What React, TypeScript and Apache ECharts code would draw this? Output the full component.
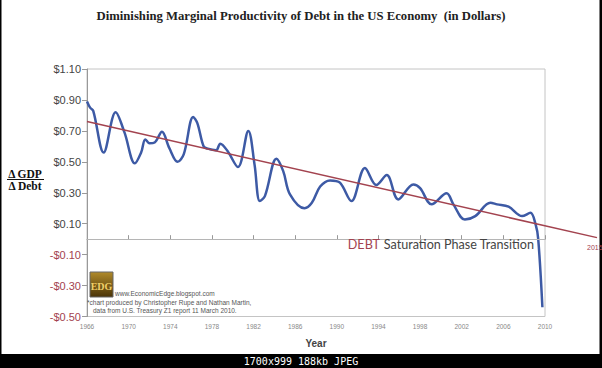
import React, { useEffect, useRef } from "react";
import * as echarts from "echarts";

// Blue curve: ΔGDP / ΔDebt
const years = [
  1966.0, 1966.3, 1966.6, 1967.6, 1968.75, 1969.6, 1970.6, 1971.2, 1971.6, 1972.0,
  1972.5, 1973.2, 1973.9, 1974.7, 1975.3, 1976.2, 1976.6, 1977.2, 1977.6, 1978.4,
  1978.8, 1979.5, 1980.5, 1981.5, 1982.1, 1982.6, 1983.1, 1984.2, 1984.85, 1985.5,
  1986.9, 1987.6, 1988.4, 1989.35, 1990.3, 1991.4, 1992.7, 1993.8, 1994.8, 1995.9,
  1997.35, 1998.0, 1999.1, 2000.55, 2001.2, 2002.3, 2003.3, 2004.75, 2005.4, 2006.5,
  2007.8, 2008.6, 2009.1, 2009.35, 2009.75,
];
const ratio = [
  0.89, 0.85, 0.83, 0.56, 0.82, 0.69, 0.49, 0.56, 0.645, 0.62,
  0.625, 0.695, 0.59, 0.5, 0.55, 0.79, 0.75, 0.6, 0.585, 0.575,
  0.617, 0.57, 0.466, 0.7, 0.48, 0.246, 0.28, 0.52, 0.44, 0.29,
  0.2, 0.235, 0.34, 0.38, 0.365, 0.246, 0.46, 0.35, 0.414, 0.257,
  0.354, 0.33, 0.225, 0.296, 0.225, 0.127, 0.149, 0.235, 0.225, 0.21,
  0.149, 0.17, 0.095, 0.0, -0.44,
];

// Red trend line
const trendYears = [1966, 2015];
const trendValues = [0.76, 0.01];

const xTicks = [1966, 1970, 1974, 1978, 1982, 1986, 1990, 1994, 1998, 2002, 2006, 2010];
const yTicks = [-0.5, -0.3, -0.1, 0.1, 0.3, 0.5, 0.7, 0.9, 1.1];

const TITLE = "Diminishing Marginal Productivity of Debt in the US Economy  (in Dollars)";
const RED = "#a3434f";
const BLUE = "#3d5aa5";

export default function App() {
  const ref = useRef<HTMLDivElement>(null);

  useEffect(() => {
    if (!ref.current) return;
    const chart = echarts.init(ref.current, undefined, { renderer: "svg" });
    const option: any = {
      animation: false,
      backgroundColor: "#000",
      title: {
        text: TITLE,
        left: "center",
        top: 4,
        textStyle: {
          fontFamily: "Liberation Serif",
          fontWeight: "bold",
          fontSize: 12.7,
          color: "#222",
        },
      },
      grid: [
        {
          left: 87,
          right: 57,
          top: 69,
          bottom: 51.5,
          show: true,
          borderColor: "#c4c4c4",
          borderWidth: 1,
          backgroundColor: "transparent",
        },
        // wider grid for the trend line that runs on to 2015
        { left: 87, right: 5, top: 69, bottom: 51.5, show: false },
      ],
      xAxis: [
        {
          type: "value",
          gridIndex: 0,
          min: 1966,
          max: 2010,
          name: "Year",
          nameLocation: "middle",
          nameGap: 22,
          nameTextStyle: {
            fontFamily: "Liberation Sans",
            fontWeight: "bold",
            fontSize: 10,
            color: "#444",
          },
          axisLine: { show: true, lineStyle: { color: "#999", width: 1 } },
          axisTick: {
            show: true,
            inside: true,
            length: 4,
            customValues: xTicks,
            lineStyle: { color: "#999" },
          },
          axisLabel: {
            customValues: xTicks,
            fontFamily: "Liberation Sans",
            fontSize: 6.5,
            color: "#888",
            margin: 6,
            formatter: (v: number) => String(v),
          },
          splitLine: { show: false },
        },
        {
          type: "value",
          gridIndex: 1,
          min: 1966,
          max: 2015,
          show: false,
        },
      ],
      yAxis: [
        {
          type: "value",
          gridIndex: 0,
          min: -0.5,
          max: 1.1,
          axisLine: { show: true, lineStyle: { color: "#999", width: 1 } },
          axisTick: {
            show: true,
            length: 5,
            customValues: yTicks,
            lineStyle: { color: "#999" },
          },
          axisLabel: {
            customValues: yTicks,
            margin: 6,
            formatter: (v: number) =>
              v < 0 ? "{n|-$" + Math.abs(v).toFixed(2) + "}" : "{p|$" + v.toFixed(2) + "}",
            rich: {
              n: { fontFamily: "Liberation Sans", fontSize: 11, color: RED },
              p: { fontFamily: "Liberation Sans", fontSize: 11, color: "#444" },
            },
          },
          splitLine: { show: false },
        },
        {
          type: "value",
          gridIndex: 1,
          min: -0.5,
          max: 1.1,
          show: false,
        },
      ],
      series: [
        {
          type: "line",
          xAxisIndex: 0,
          yAxisIndex: 0,
          data: years.map((y, i) => [y, ratio[i]]),
          smooth: 0.35,
          symbol: "none",
          z: 3,
          lineStyle: { color: BLUE, width: 2.5 },
          markLine: {
            silent: true,
            symbol: "none",
            lineStyle: { color: "#b5b5b5", width: 1, type: "solid" },
            label: { show: false },
            data: [{ yAxis: 0 }],
          },
        },
        {
          type: "line",
          xAxisIndex: 1,
          yAxisIndex: 1,
          symbol: "none",
          showSymbol: true,
          z: 4,
          lineStyle: { color: RED, width: 1.5 },
          data: trendYears.map((y, i) => [y, trendValues[i]]),
          endLabel: {
            show: true,
            formatter: () => String(trendYears[trendYears.length - 1]),
            offset: [-18, 10],
            fontFamily: "Liberation Sans",
            fontSize: 7,
            color: RED,
          },
        },
      ],
      graphic: [
        // white page inside the black frame
        { type: "rect", z: -10, silent: true, shape: { x: 1.5, y: 0, width: 598, height: 354 }, style: { fill: "#fff" } },
        // y-axis name as a fraction
        {
          type: "text",
          z: 10,
          style: { text: "Δ GDP", x: 25, y: 173.5, align: "center", verticalAlign: "middle", fontFamily: "Liberation Serif", fontWeight: "bold", fontSize: 11.5, fill: "#111" },
        },
        { type: "line", z: 10, shape: { x1: 7, y1: 179.5, x2: 44, y2: 179.5 }, style: { stroke: "#111", lineWidth: 1 } },
        {
          type: "text",
          z: 10,
          style: { text: "Δ Debt", x: 25, y: 185.5, align: "center", verticalAlign: "middle", fontFamily: "Liberation Serif", fontWeight: "bold", fontSize: 11.5, fill: "#111" },
        },
        // annotation
        {
          type: "text",
          z: 10,
          style: {
            text: "{a|DEBT} {b|Saturation Phase Transition}",
            x: 534,
            y: 244.5,
            align: "right",
            verticalAlign: "middle",
            rich: {
              a: { fontFamily: "Lato", fontSize: 12.6, fill: RED, color: RED },
              b: { fontFamily: "Lato", fontSize: 12.6, fill: "#444", color: "#444" },
            },
          },
        },
        // logo
        {
          type: "rect",
          z: 10,
          shape: { x: 90, y: 272, width: 23, height: 25 },
          style: {
            fill: new echarts.graphic.LinearGradient(0, 0, 0, 1, [
              { offset: 0, color: "#b08a2a" },
              { offset: 1, color: "#4a3408" },
            ]),
            stroke: "#666",
            lineWidth: 1,
          },
        },
        {
          type: "text",
          z: 11,
          style: { text: "EDG", x: 101.5, y: 286, align: "center", verticalAlign: "middle", fontFamily: "Liberation Serif", fontWeight: "bold", fontSize: 10, fill: "#f0cf6a" },
        },
        {
          type: "text",
          z: 10,
          style: { text: "www.EconomicEdge.blogspot.com", x: 115, y: 293, verticalAlign: "middle", fontFamily: "Liberation Sans", fontSize: 6.5, fill: "#555" },
        },
        {
          type: "text",
          z: 10,
          style: { text: "*chart produced by Christopher Rupe and Nathan Martin,", x: 87, y: 302, verticalAlign: "middle", fontFamily: "Liberation Sans", fontSize: 6.5, fill: "#555" },
        },
        {
          type: "text",
          z: 10,
          style: { text: "data from U.S. Treasury Z1 report 11 March 2010.", x: 93, y: 310, verticalAlign: "middle", fontFamily: "Liberation Sans", fontSize: 6.5, fill: "#555" },
        },
        // bottom bar caption
        {
          type: "text",
          z: 10,
          style: { text: "1700x999 188kb JPEG", x: 301, y: 361, align: "center", verticalAlign: "middle", fontFamily: "DejaVu Sans Mono", fontSize: 10, fill: "#fff" },
        },
      ],
    };
    chart.setOption(option);
    return () => chart.dispose();
  }, []);

  return (
    <div
      ref={ref}
      style={{ position: "absolute", left: 0, top: 0, width: 602, height: 368 }}
    />
  );
}
